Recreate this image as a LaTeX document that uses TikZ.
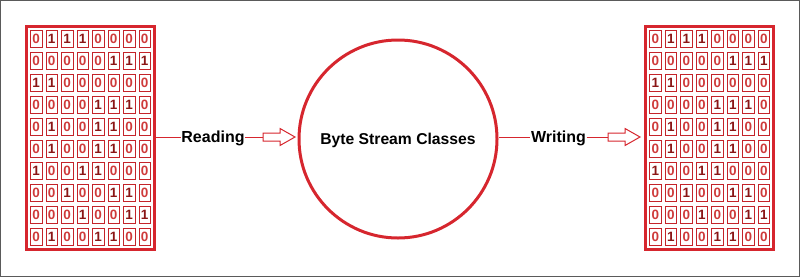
\documentclass[tikz,border=0pt]{standalone}
\usepackage{fontspec}
\setmainfont{Liberation Sans}

\definecolor{framered}{RGB}{214,38,46}
\definecolor{cellred}{RGB}{196,36,42}
\definecolor{bit0}{RGB}{206,58,58}
\definecolor{bit1}{RGB}{138,22,22}
\definecolor{edgegray}{RGB}{90,90,90}

\tikzset{
  table/.style={draw=framered, line width=3pt, minimum width=128pt,
    minimum height=223pt, inner sep=0pt},
  bitcell/.style={draw=cellred, line width=1pt, minimum width=11.5pt,
    minimum height=16.5pt, inner sep=0pt,
    font=\fontsize{13.5}{14}\selectfont\bfseries},
  hub/.style={draw=framered, line width=3pt, circle, minimum size=198pt,
    inner sep=0pt, text height=11.5pt, text depth=0pt,
    font=\fontsize{15.7}{18}\selectfont\bfseries},
  tag/.style={inner sep=0.5pt, text height=11.5pt, text depth=0pt,
    font=\fontsize{16}{19}\selectfont\bfseries},
  link/.style={draw=framered, line width=1pt},
  harrow/.pic={
    \coordinate (-tail) at (0,0);
    \draw[framered, line width=1pt, fill=white, line join=miter]
      (0,-4) -- (17,-4) -- (17,-8.5) -- (32,0) -- (17,8.5) -- (17,4)
      -- (0,4) -- cycle;
  }
}

\begin{document}
\begin{tikzpicture}[x=1pt, y=-1pt]
  \useasboundingbox (0,0) rectangle (800,277);
  \draw[edgegray, line width=1pt] (0.5,0.5) rectangle (799.5,276.5);

  % the two byte tables
  \node[table] (lefttab) at (90.5,138) {};
  \node[table] (righttab) at (709.5,138) {};

  \foreach \tab in {lefttab,righttab} {
    \foreach [count=\r] \bits in {
      {0,1,1,1,0,0,0,0},
      {0,0,0,0,0,1,1,1},
      {1,1,0,0,0,0,0,0},
      {0,0,0,0,1,1,1,0},
      {0,1,0,0,1,1,0,0},
      {0,1,0,0,1,1,0,0},
      {1,0,0,1,1,0,0,0},
      {0,0,1,0,0,1,1,0},
      {0,0,0,1,0,0,1,1},
      {0,1,0,0,1,1,0,0}} {
      \foreach [count=\c] \b in \bits {
        \node[bitcell, text=bit\b] (\tab-\r-\c)
          at ([shift={(15.5*\c-69.75, 22*\r-121)}]\tab.center) {\b};
      }
    }
  }

  % the stream classes in the middle
  \node[hub] (bsc) at (398,139) {Byte Stream Classes};

  % labels
  \node[tag] (reading) at (213,137) {Reading};
  \node[tag] (writing) at (558.5,137) {Writing};

  % hollow arrows
  \pic (ra) at (263,137) {harrow};
  \pic (wa) at (608,137) {harrow};

  % connectors
  \draw[link] (lefttab.east |- reading.west) -- (reading.west);
  \draw[link] (reading.east) -- (ra-tail);
  \draw[link] (bsc.east |- writing.west) -- (writing.west);
  \draw[link] (writing.east) -- (wa-tail);
\end{tikzpicture}
\end{document}
